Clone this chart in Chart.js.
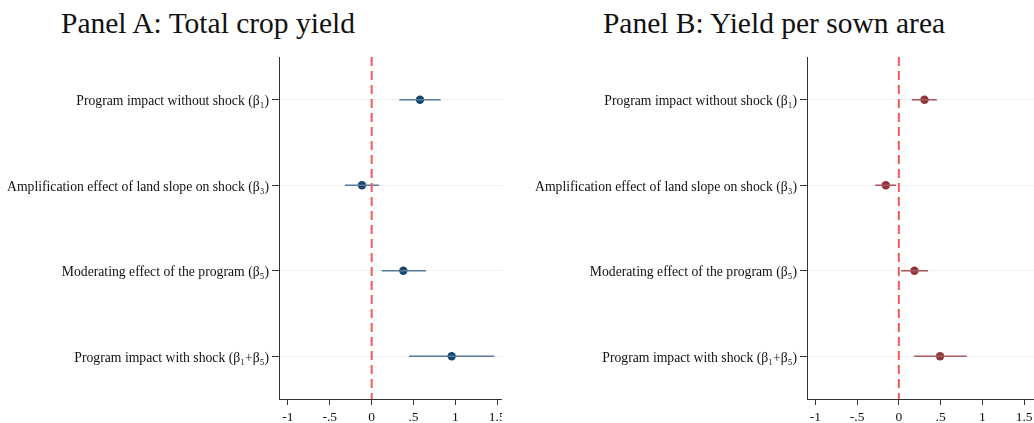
<!DOCTYPE html>
<html>
<head>
<meta charset="utf-8">
<script src="https://cdn.jsdelivr.net/npm/chart.js@4.4.1/dist/chart.umd.min.js"></script>
<style>
  html, body { margin: 0; padding: 0; background: #fff; }
  #wrap { position: relative; width: 1034px; height: 423px; overflow: hidden; }
  .panel { position: absolute; top: 0; height: 423px; }
  .title {
    position: absolute; top: 7px; transform: translateX(-50%);
    font-family: "Liberation Serif", serif; font-size: 29.5px; color: #111;
    white-space: nowrap;
  }
</style>
</head>
<body>
<div id="wrap">
  <div class="title" style="left:208px">Panel A: Total crop yield</div>
  <div class="title" style="left:774px">Panel B: Yield per sown area</div>
  <div class="panel" style="left:0;width:502px"><canvas id="panelA"></canvas></div>
  <div class="panel" style="left:517px;width:517px"><canvas id="panelB"></canvas></div>
</div>
<script>
// Coefficient rows (top to bottom)
const rowLabels = [
  'Program impact without shock (β₁)',
  'Amplification effect of land slope on shock (β₃)',
  'Moderating effect of the program (β₅)',
  'Program impact with shock (β₁+β₅)'
];

// Panel A: total crop yield — point estimates and 95% CI bounds
const estA = [0.577, -0.116, 0.378, 0.956];
const lowA = [0.330, -0.319, 0.119, 0.446];
const highA = [0.824, 0.087, 0.649, 1.465];

// Panel B: yield per sown area
const estB = [0.307, -0.156, 0.187, 0.494];
const lowB = [0.155, -0.283, 0.028, 0.183];
const highB = [0.455, -0.032, 0.350, 0.813];

// x-axis ticks and reference value
const xTicks = [-1, -0.5, 0, 0.5, 1, 1.5];
const refValue = 0;

function fmtTick(v) {
  if (v === 0) return '0';
  return (v < 0 ? '-' : '') + String(Math.abs(v)).replace(/^0/, '');
}

const serif = 'Liberation Serif';

function makePanel(canvasId, est, low, high, cfg) {
  const datasets = [];
  // dashed vertical reference line at zero
  datasets.push({
    type: 'line',
    data: [{ x: refValue, y: 0.5 }, { x: refValue, y: rowLabels.length + 0.5 }],
    borderColor: '#f25a5d', borderWidth: 2, borderDash: [9, 5],
    pointRadius: 0, fill: false
  });
  // confidence interval segments
  est.forEach((_, i) => {
    datasets.push({
      type: 'line',
      data: [{ x: low[i], y: i + 1 }, { x: high[i], y: i + 1 }],
      borderColor: cfg.ciColor, borderWidth: 1.6,
      pointRadius: 0, fill: false
    });
  });
  // point estimates
  datasets.push({
    type: 'scatter',
    data: est.map((v, i) => ({ x: v, y: i + 1 })),
    backgroundColor: cfg.pointColor, borderWidth: 0,
    pointRadius: 4.2
  });

  new Chart(document.getElementById(canvasId), {
    type: 'scatter',
    data: { datasets },
    options: {
      responsive: true,
      maintainAspectRatio: false,
      animation: false,
      events: [],
      layout: { autoPadding: false, padding: { top: 57, right: 0, bottom: 0, left: 0 } },
      plugins: { legend: { display: false }, tooltip: { enabled: false }, title: { display: false } },
      scales: {
        x: {
          type: 'linear', min: cfg.xMin, max: cfg.xMax,
          afterBuildTicks: s => { s.ticks = xTicks.map(v => ({ value: v })); },
          afterFit: s => { s.height = 24; s.paddingLeft = 0; s.paddingRight = 0; },
          ticks: {
            callback: v => fmtTick(v), autoSkip: false, maxRotation: 0,
            font: { family: serif, size: 13.5 }, color: '#111', padding: 4
          },
          grid: { drawOnChartArea: false, tickLength: 6, color: '#333', tickColor: '#333' },
          border: { display: true, color: '#333', width: 1 }
        },
        y: {
          type: 'linear', min: 0.5, max: rowLabels.length + 0.5, reverse: true,
          afterBuildTicks: s => { s.ticks = rowLabels.map((_, i) => ({ value: i + 1 })); },
          afterFit: s => { s.width = cfg.yWidth; s.paddingTop = 0; s.paddingBottom = 0; },
          ticks: {
            callback: v => rowLabels[v - 1], autoSkip: false, labelOffset: 2,
            font: { family: serif, size: 13.7 }, color: '#111', padding: 3
          },
          grid: { color: '#edf1f4', lineWidth: 1, tickLength: 7, tickColor: '#333' },
          border: { display: true, color: '#333', width: 1 }
        }
      }
    }
  });
}

makePanel('panelA', estA, lowA, highA, {
  xMin: -1.107, xMax: 1.557, yWidth: 279,
  pointColor: '#1a476f', ciColor: '#58789a'
});
makePanel('panelB', estB, lowB, highB, {
  xMin: -1.1, xMax: 1.619, yWidth: 290,
  pointColor: '#90353b', ciColor: '#a45a60'
});
</script>
</body>
</html>
